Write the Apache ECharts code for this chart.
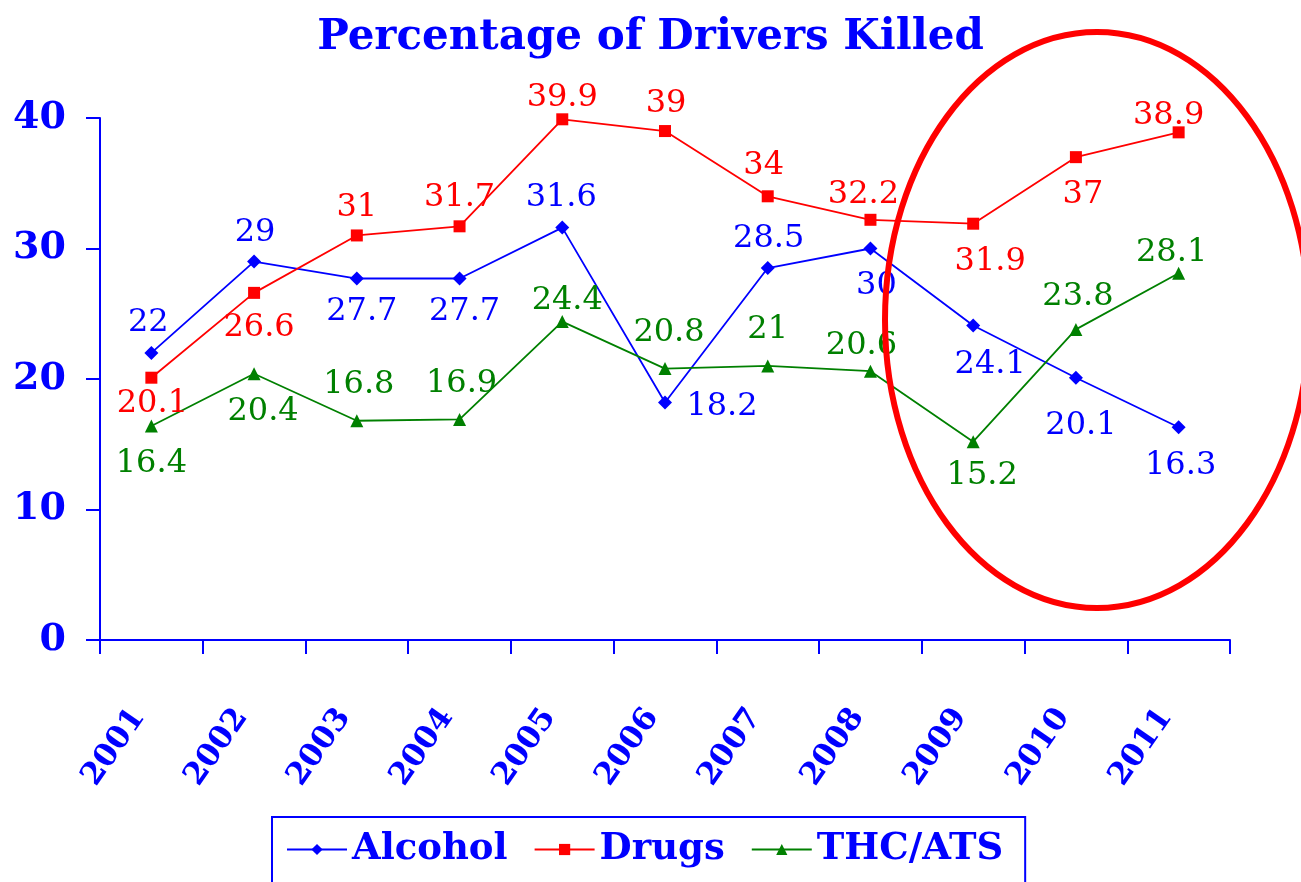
<!DOCTYPE html>
<html>
<head>
<meta charset="utf-8">
<script src="https://cdn.jsdelivr.net/npm/echarts@6/dist/echarts.min.js"></script>
<style>html,body{margin:0;padding:0;background:#fff}#c{width:1301px;height:882px}</style>
</head>
<body>
<div id="c"></div>
<script>
const years = ['2001','2002','2003','2004','2005','2006','2007','2008','2009','2010','2011'];
const alcohol = [22, 29, 27.7, 27.7, 31.6, 18.2, 28.5, 30, 24.1, 20.1, 16.3];
const drugs = [20.1, 26.6, 31, 31.7, 39.9, 39, 34, 32.2, 31.9, 37, 38.9];
const thc = [16.4, 20.4, 16.8, 16.9, 24.4, 20.8, 21, 20.6, 15.2, 23.8, 28.1];
const yTicks = [0, 10, 20, 30, 40];

// value-label nudges relative to each point (presentation only)
const alcLabelOffset = [[-3,-31],[1,-30],[5,32],[5,32],[-1,-31],[57,3],[1,-30],[6,36],[17,38],[5,47],[2,37]];
const drugLabelOffset = [[1,25],[5,34],[0,-29],[0,-30],[0,-23],[1,-28],[-4,-32],[-7,-26],[17,37],[7,37],[-10,-18]];
const thcLabelOffset = [[0,37],[9,37],[2,-37],[2,-37],[5,-22],[4,-37],[0,-37],[-9,-26],[9,33],[2,-34],[-7,-22]];

const BLUE = '#0000ff', RED = '#ff0000', GREEN = '#008000';
const labelFont = {fontFamily: 'DejaVu Serif', fontSize: 32, fontWeight: 'normal'};

function mk(vals, offs) {
  return vals.map((v, i) => ({
    value: v,
    label: {position: 'inside', offset: [offs[i][0], offs[i][1] + 1]}
  }));
}

const chart = echarts.init(document.getElementById('c'), null, {renderer: 'canvas'});
chart.setOption({
  animation: false,
  backgroundColor: '#fff',
  title: {
    text: 'Percentage of Drivers Killed',
    left: 'center', top: 12,
    textStyle: {color: BLUE, fontFamily: 'DejaVu Serif', fontWeight: 'bold', fontSize: 42}
  },
  grid: {left: 100, right: 71, top: 118, bottom: 242, containLabel: false},
  xAxis: {
    type: 'category', data: years, boundaryGap: true,
    axisLine: {lineStyle: {color: BLUE, width: 2}},
    axisTick: {show: true, length: 14, interval: 0, lineStyle: {color: BLUE, width: 2}},
    axisLabel: {interval: 0, rotate: 55, margin: 54, padding: [0, 22, 0, 0], color: BLUE, fontFamily: 'DejaVu Serif', fontWeight: 'bold', fontSize: 31},
    splitLine: {show: false}
  },
  yAxis: {
    type: 'value', min: yTicks[0], max: yTicks[yTicks.length - 1], interval: 10,
    axisLine: {show: true, lineStyle: {color: BLUE, width: 2}},
    axisTick: {show: true, length: 14, lineStyle: {color: BLUE, width: 2}},
    axisLabel: {margin: 34, color: BLUE, fontFamily: 'DejaVu Serif', fontWeight: 'bold', fontSize: 38},
    splitLine: {show: false}
  },
  legend: {
    left: 272, top: 817,
    padding: [14, 22, 40, 14],
    borderColor: BLUE, borderWidth: 2,
    itemWidth: 60, itemHeight: 14, itemGap: 26,
    textStyle: {color: BLUE, fontFamily: 'DejaVu Serif', fontWeight: 'bold', fontSize: 37},
    data: ['Alcohol', 'Drugs', 'THC/ATS']
  },
  series: [
    {
      name: 'Alcohol', type: 'line', data: mk(alcohol, alcLabelOffset),
      symbol: 'diamond', symbolSize: 14,
      lineStyle: {color: BLUE, width: 1.8}, itemStyle: {color: BLUE},
      label: {show: true, color: BLUE, ...labelFont}
    },
    {
      name: 'Drugs', type: 'line', data: mk(drugs, drugLabelOffset),
      symbol: 'rect', symbolSize: 12,
      lineStyle: {color: RED, width: 1.8}, itemStyle: {color: RED},
      label: {show: true, color: RED, ...labelFont}
    },
    {
      name: 'THC/ATS', type: 'line', data: mk(thc, thcLabelOffset),
      symbol: 'triangle', symbolSize: 13,
      lineStyle: {color: GREEN, width: 1.8}, itemStyle: {color: GREEN},
      label: {show: true, color: GREEN, ...labelFont}
    }
  ],
  graphic: [{
    type: 'ellipse', z: 100,
    shape: {cx: 1097, cy: 320, rx: 212, ry: 288},
    style: {fill: 'none', stroke: RED, lineWidth: 6}
  }]
});
</script>
</body>
</html>
